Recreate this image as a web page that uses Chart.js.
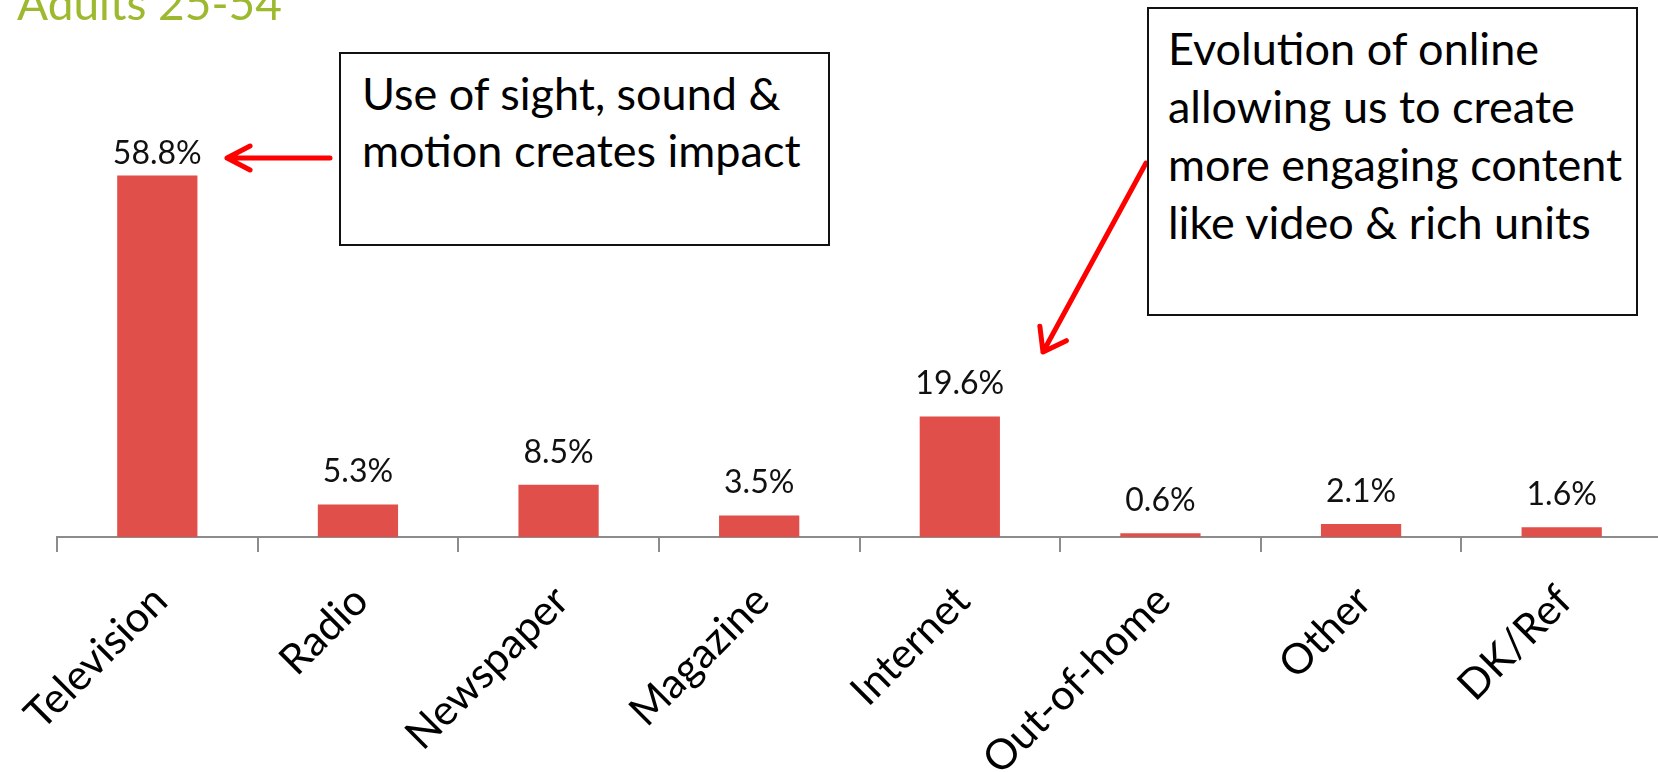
<!DOCTYPE html>
<html>
<head>
<meta charset="utf-8">
<title>Adults 25-54</title>
<script src="https://cdn.jsdelivr.net/npm/chart.js@4.4.0/dist/chart.umd.min.js"></script>
<style>
  html, body { margin: 0; padding: 0; background: #fff; overflow: hidden; }
  #wrap { position: relative; width: 1662px; height: 772px; }
  #chart { position: absolute; left: 0; top: 0; }
  .title {
    position: absolute; left: 17px; top: -20px;
    font-family: Lato, sans-serif; font-size: 46px; line-height: 46px;
    color: #9db92f; white-space: nowrap;
  }
  .note {
    position: absolute; box-sizing: border-box;
    border: 2px solid #111; background: #fff;
    font-family: Lato, sans-serif; font-size: 45px; color: #000;
    white-space: nowrap;
  }
  #note1 { left: 339px; top: 52px; width: 491px; height: 194px; padding: 11px 0 0 21px; line-height: 57px; }
  #note2 { left: 1147px; top: 7px; width: 491px; height: 309px; padding: 10px 0 0 19px; line-height: 58px; }
</style>
</head>
<body>
<div id="wrap">
  <canvas id="chart" width="1662" height="772"></canvas>
  <div class="title">Adults 25-54</div>
  <div class="note" id="note1">Use of sight, sound &amp;<br>motion creates impact</div>
  <div class="note" id="note2">Evolution of online<br>allowing us to create<br>more engaging content<br>like video &amp; rich units</div>
</div>

<script>
// data
const categories = ['Television', 'Radio', 'Newspaper', 'Magazine', 'Internet', 'Out-of-home', 'Other', 'DK/Ref'];
const shares = [58.8, 5.3, 8.5, 3.5, 19.6, 0.6, 2.1, 1.6];
const yMin = 0;
const yMax = 60;

const barColor = '#e04f49';
const axisColor = '#8c8c8c';

// percent labels above each bar
const valueLabels = {
  id: 'valueLabels',
  afterDatasetsDraw(chart) {
    const ctx = chart.ctx;
    const top = chart.chartArea.top - 4;
    ctx.save();
    ctx.font = '32px Lato, sans-serif';
    ctx.fillStyle = '#111';
    ctx.textAlign = 'center';
    ctx.textBaseline = 'alphabetic';
    chart.getDatasetMeta(0).data.forEach((bar, i) => {
      const y = Math.max(bar.y - 22, top);
      ctx.fillText(shares[i].toFixed(1) + '%', bar.x, y);
    });
    ctx.restore();
  }
};

function arrow(ctx, x1, y1, x2, y2, len, ang) {
  const a = Math.atan2(y1 - y2, x1 - x2);
  ctx.beginPath();
  ctx.moveTo(x1, y1);
  ctx.lineTo(x2, y2);
  ctx.moveTo(x2 + len * Math.cos(a + ang), y2 + len * Math.sin(a + ang));
  ctx.lineTo(x2, y2);
  ctx.lineTo(x2 + len * Math.cos(a - ang), y2 + len * Math.sin(a - ang));
  ctx.stroke();
}

// the two red callout arrows
const callouts = {
  id: 'callouts',
  afterDraw(chart) {
    const ctx = chart.ctx;
    ctx.save();
    ctx.strokeStyle = '#ff0000';
    ctx.lineWidth = 5;
    ctx.lineCap = 'round';
    ctx.lineJoin = 'round';
    arrow(ctx, 330, 158, 227, 158, 26, 0.48);
    arrow(ctx, 1146, 163, 1043, 352, 26, 0.62);
    ctx.restore();
  }
};

function draw() {
  const ctx = document.getElementById('chart').getContext('2d');
  new Chart(ctx, {
    type: 'bar',
    data: {
      labels: categories,
      datasets: [{
        data: shares,
        backgroundColor: barColor,
        barPercentage: 0.4,
        categoryPercentage: 1
      }]
    },
    options: {
      responsive: false,
      animation: false,
      devicePixelRatio: 1,
      layout: { padding: { left: 57, top: 168, right: 0, bottom: 0 } },
      plugins: { legend: { display: false }, tooltip: { enabled: false } },
      scales: {
        y: { display: false, min: yMin, max: yMax },
        x: {
          afterFit: (scale) => { scale.height = 235; },
          border: { display: true, color: axisColor, width: 2 },
          grid: {
            offset: true,
            drawOnChartArea: false,
            drawTicks: true,
            tickLength: 15,
            color: axisColor,
            lineWidth: 2
          },
          ticks: {
            autoSkip: false,
            minRotation: 45,
            maxRotation: 45,
            padding: 24,
            labelOffset: 3,
            color: '#000',
            font: { family: 'Lato, sans-serif', size: 42 }
          }
        }
      }
    },
    plugins: [valueLabels, callouts]
  });
}

if (document.fonts && document.fonts.load) {
  document.fonts.load('42px Lato').then(draw, draw);
} else {
  draw();
}
</script>
</body>
</html>
